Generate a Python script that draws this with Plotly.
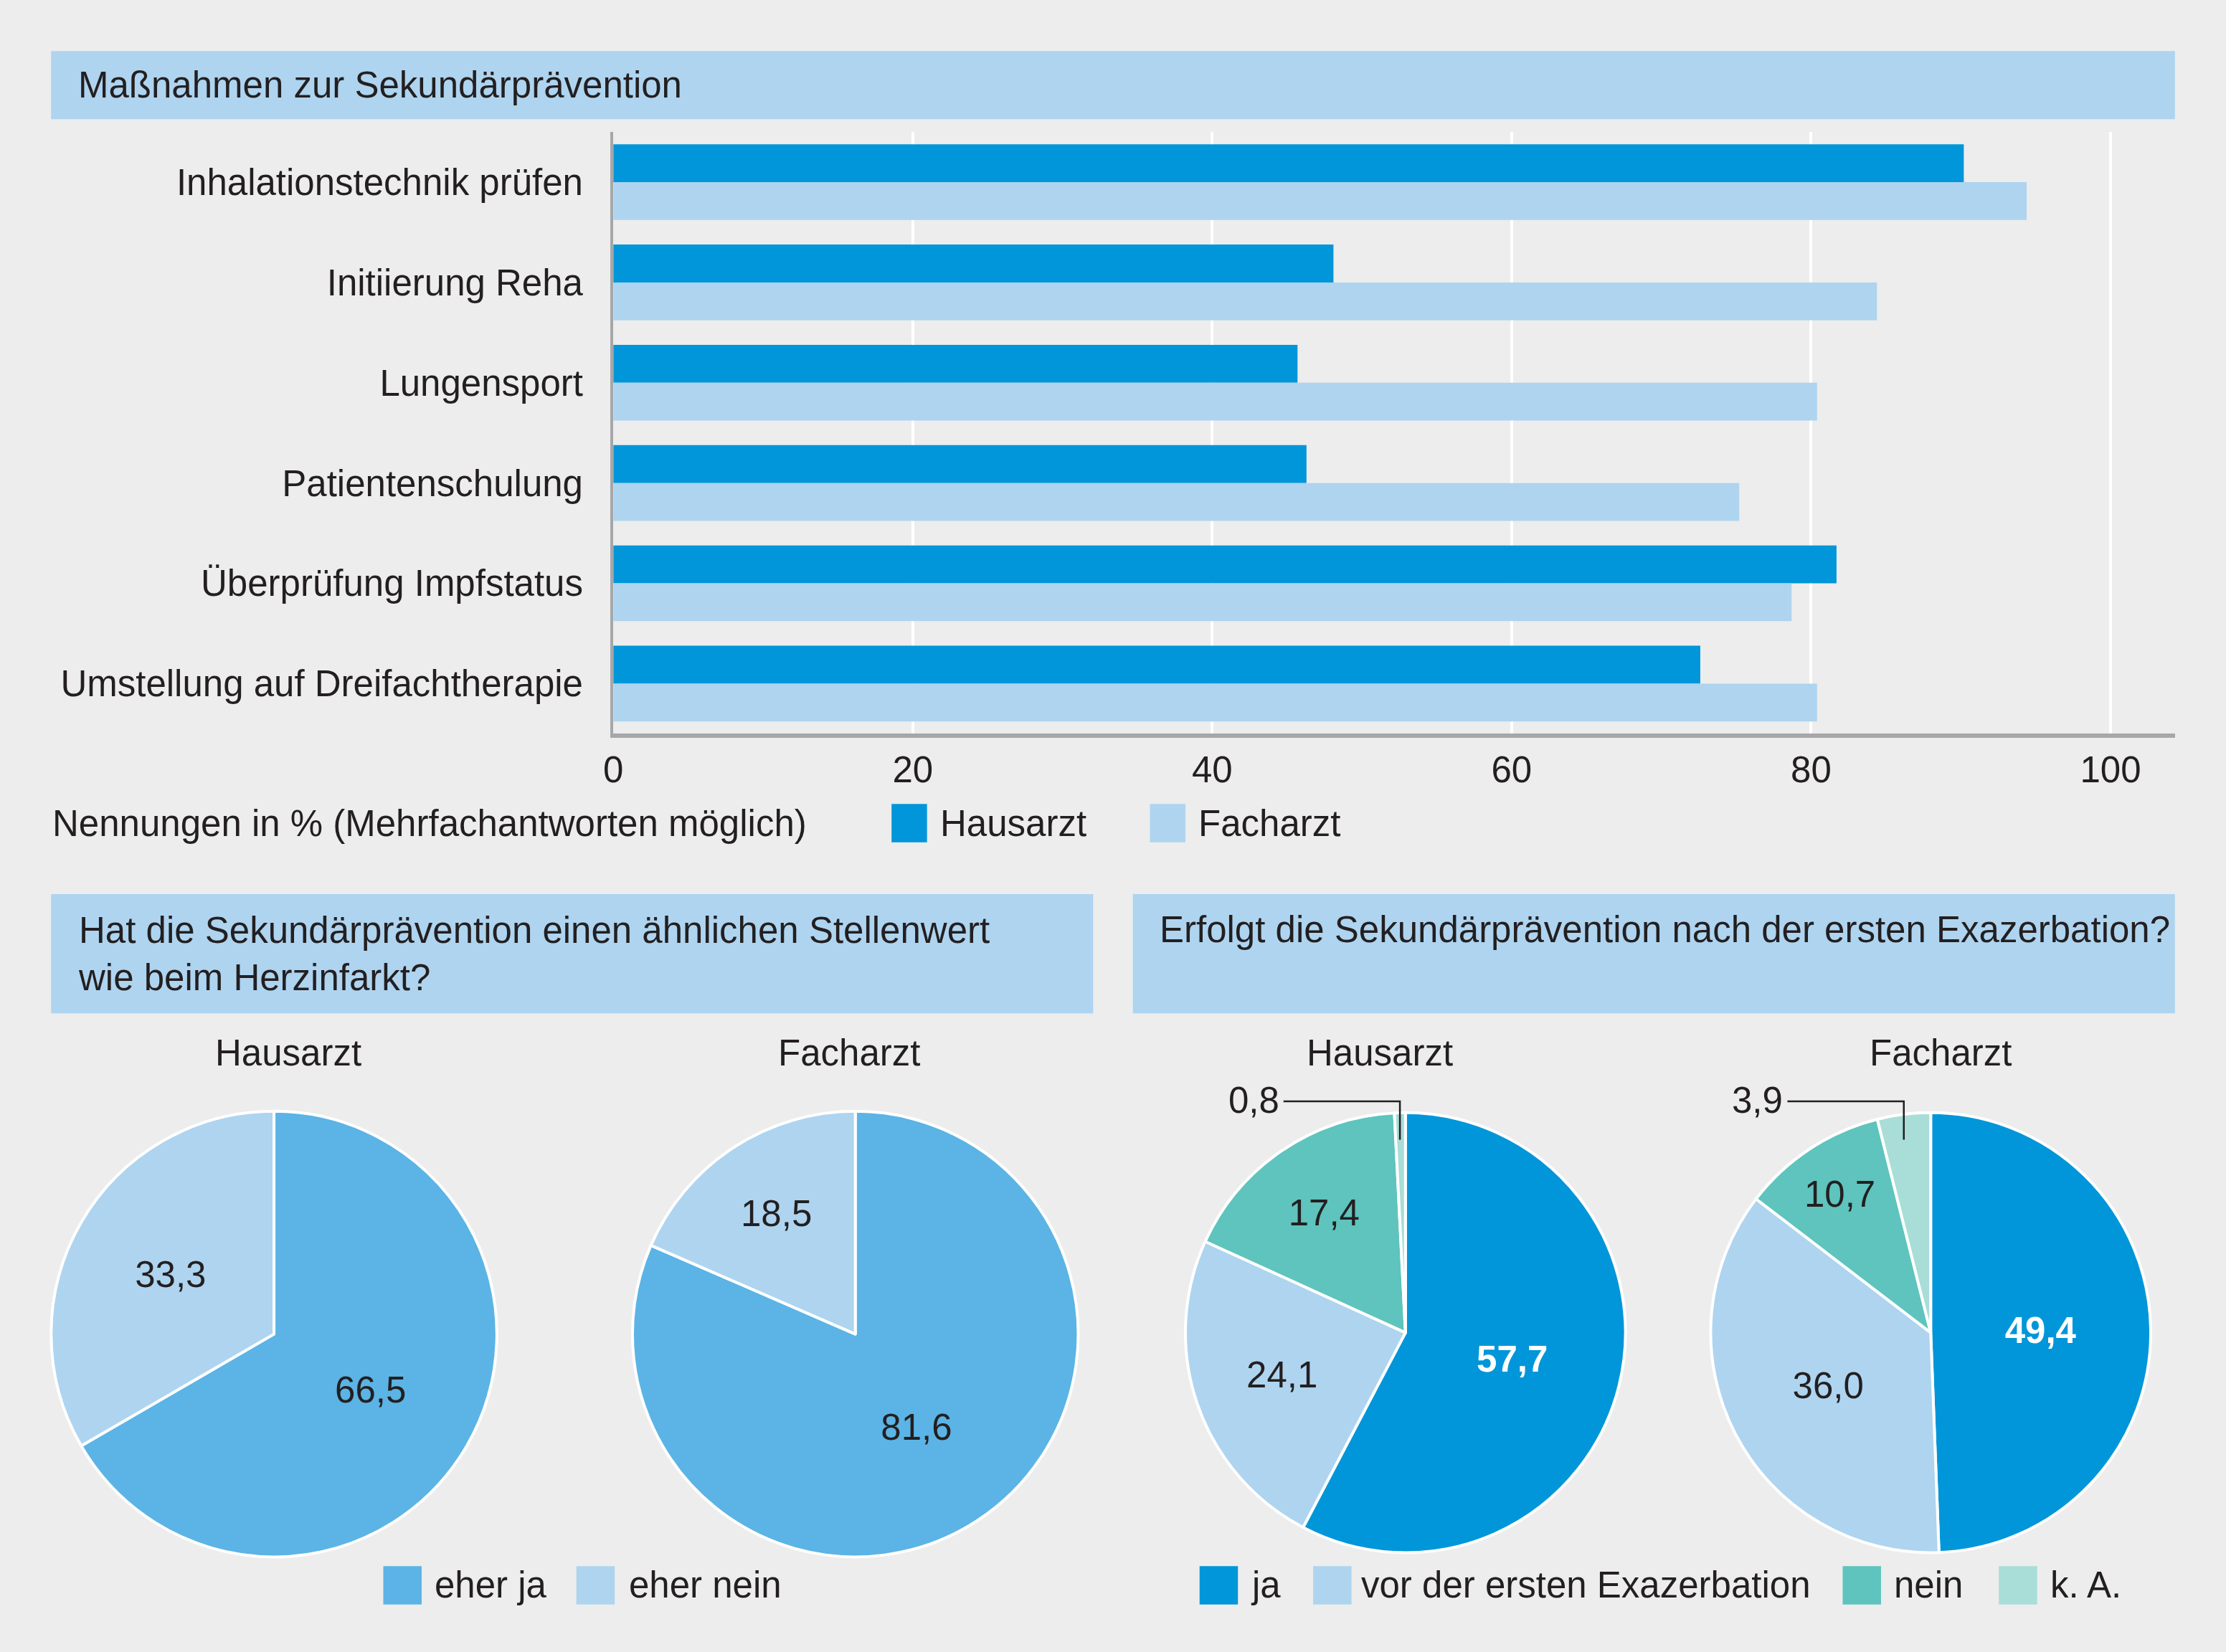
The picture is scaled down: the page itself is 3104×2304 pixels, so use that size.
import math
import plotly.graph_objects as go

# Skizzenmaß: Positionen werden im Maßstab 1568 x 1164 angegeben
SW, SH = 1568, 1164
W, H = 3104, 2304

measures = ["Inhalationstechnik prüfen", "Initiierung Reha", "Lungensport",
            "Patientenschulung", "Überprüfung Impfstatus", "Umstellung auf Dreifachtherapie"]
hausarzt = [90.2, 48.1, 45.7, 46.3, 81.7, 72.6]
facharzt = [94.4, 84.4, 80.4, 75.2, 78.7, 80.4]
x_ticks = [0, 20, 40, 60, 80, 100]
series_names = ["Hausarzt", "Facharzt"]

stellenwert_labels = ["eher ja", "eher nein"]
stellenwert_haus = [66.5, 33.3]
stellenwert_fach = [81.6, 18.5]

exa_labels = ["ja", "vor der ersten Exazerbation", "nein", "k. A."]
exa_haus = [57.7, 24.1, 17.4, 0.8]
exa_fach = [49.4, 36.0, 10.7, 3.9]

BG = "#ECEDEC"
BAND = "#AED4F0"
DARK = "#0096D9"
MID = "#5BB4E5"
LIGHT = "#AED4F0"
TEAL = "#5EC4BD"
LTEAL = "#A9DDD8"
TXT = "#231F20"
AXIS = "#A5A7AA"
FONT = "Liberation Sans"
FS = 51


def fx(x):
    return x / SW


def fy(y):
    return 1 - y / SH


def circle(cx, cy, r):
    return dict(x=[fx(cx - r), fx(cx + r)], y=[fy(cy + r), fy(cy - r)])


fig = go.Figure()

fig.add_trace(go.Bar(orientation="h", y=measures, x=hausarzt, name=series_names[0],
                     marker=dict(color=DARK, line=dict(width=0)), showlegend=False))
fig.add_trace(go.Bar(orientation="h", y=measures, x=facharzt, name=series_names[1],
                     marker=dict(color=LIGHT, line=dict(width=0)), showlegend=False))

# Tortendiagramme
pies = [
    (stellenwert_labels, stellenwert_haus, [MID, LIGHT], (193, 940, 157)),
    (stellenwert_labels, stellenwert_fach, [MID, LIGHT], (602.5, 940, 157)),
    (exa_labels, exa_haus, [DARK, LIGHT, TEAL, LTEAL], (990, 939, 155)),
    (exa_labels, exa_fach, [DARK, LIGHT, TEAL, LTEAL], (1360, 939, 155)),
]

shapes = []
annotations = []

for i, (labels, values, colors, (cx, cy, r)) in enumerate(pies):
    tmpl, tcol = [], []
    for j, v in enumerate(values):
        if i >= 2 and j == 0:
            tmpl.append("<b>%{value:.1f}</b>")
            tcol.append("white")
        elif i >= 2 and j == 3:
            tmpl.append("")
            tcol.append(TXT)
        else:
            tmpl.append("%{value:.1f}")
            tcol.append(TXT)
    fig.add_trace(go.Pie(
        labels=labels, values=values, domain=circle(cx, cy, r),
        sort=False, direction="clockwise", rotation=0,
        marker=dict(colors=colors, line=dict(color="white", width=4)),
        texttemplate=tmpl, textposition="inside", insidetextorientation="horizontal",
        textfont=dict(color=tcol, size=FS, family=FONT),
        showlegend=False, hoverinfo="skip",
    ))
    if i >= 2:
        # Beschriftung des kleinen Segments mit Führungslinie
        total = sum(values)
        mid = (sum(values[:3]) + values[3] / 2) / total * 2 * math.pi
        lx = cx + r * math.sin(mid)
        ly = cy - r - 8
        shapes.append(dict(type="path", xref="paper", yref="paper",
                           path=f"M {fx(lx - 82)} {fy(ly)} L {fx(lx)} {fy(ly)} L {fx(lx)} {fy(cy - r + 19)}",
                           line=dict(color=TXT, width=2.5)))
        annotations.append(dict(x=fx(lx - 84), y=fy(ly - 1), xref="paper", yref="paper",
                                text=f"{values[3]:.1f}".replace(".", ","), showarrow=False,
                                xanchor="right", yanchor="middle",
                                font=dict(size=FS, color=TXT, family=FONT)))

# Überschriftenbänder
for (x0, y0, x1, y1) in [(36, 36, 1532, 84), (36, 630, 770, 714), (798, 630, 1532, 714)]:
    shapes.append(dict(type="rect", xref="paper", yref="paper", layer="below",
                       x0=fx(x0), x1=fx(x1), y0=fy(y1), y1=fy(y0),
                       fillcolor=BAND, line=dict(width=0)))

texts = [
    ("Maßnahmen zur Sekundärprävention", 54, 60, "left"),
    ("Hat die Sekundärprävention einen ähnlichen Stellenwert<br>wie beim Herzinfarkt?", 54, 672, "left"),
    ("Erfolgt die Sekundärprävention nach der ersten Exazerbation?", 816, 655, "left"),
    ("Nennungen in % (Mehrfachantworten möglich)", 36, 580, "left"),
    ("Hausarzt", 203, 742, "center"),
    ("Facharzt", 598, 742, "center"),
    ("Hausarzt", 972, 742, "center"),
    ("Facharzt", 1367, 742, "center"),
]
for t, x, y, anc in texts:
    annotations.append(dict(x=fx(x), y=fy(y), xref="paper", yref="paper", text=t,
                            showarrow=False, xanchor=anc, yanchor="middle", align="left",
                            font=dict(size=FS, color=TXT, family=FONT)))

# Legenden
legends = [
    (series_names[0], DARK, 628, 653, 580, 661),
    (series_names[1], LIGHT, 810, 835, 580, 843),
    (stellenwert_labels[0], MID, 270, 297, 1117, 305),
    (stellenwert_labels[1], LIGHT, 406, 433, 1117, 442),
    (exa_labels[0], DARK, 845, 872, 1117, 880),
    (exa_labels[1], LIGHT, 925, 952, 1117, 958),
    (exa_labels[2], TEAL, 1298, 1325, 1117, 1333),
    (exa_labels[3], LTEAL, 1408, 1435, 1117, 1443),
]
for name, col, x0, x1, yc, tx in legends:
    shapes.append(dict(type="rect", xref="paper", yref="paper",
                       x0=fx(x0), x1=fx(x1), y0=fy(yc + 13.5), y1=fy(yc - 13.5),
                       fillcolor=col, line=dict(width=0)))
    annotations.append(dict(x=fx(tx), y=fy(yc), xref="paper", yref="paper", text=name,
                            showarrow=False, xanchor="left", yanchor="middle",
                            font=dict(size=FS, color=TXT, family=FONT)))

fig.update_layout(
    width=W, height=H,
    margin=dict(l=0, r=0, t=0, b=0, pad=0),
    paper_bgcolor=BG, plot_bgcolor=BG,
    font=dict(family=FONT, size=FS, color=TXT),
    separators=",.",
    barmode="group", bargap=0.245, bargroupgap=0,
    xaxis=dict(domain=[fx(432), fx(1532)], range=[0, 104.3], tickvals=x_ticks,
               showgrid=True, gridcolor="white", gridwidth=4, zeroline=False,
               showline=True, linecolor=AXIS, linewidth=6, ticks="", automargin=False,
               ticklabelstandoff=0, tickfont=dict(size=FS, color=TXT)),
    yaxis=dict(domain=[fy(517), fy(93)], autorange="reversed", automargin=False,
               showgrid=False, zeroline=False, showline=True, linecolor=AXIS, linewidth=4,
               ticks="", ticklabelstandoff=28, tickfont=dict(size=FS, color=TXT)),
    shapes=shapes, annotations=annotations,
)

fig.write_html(
    "out.html",
    config={"displayModeBar": False},
    post_script=("document.body.style.margin='0';"
                 "document.body.style.overflow='hidden';"
                 "document.documentElement.style.overflow='hidden';"),
)
